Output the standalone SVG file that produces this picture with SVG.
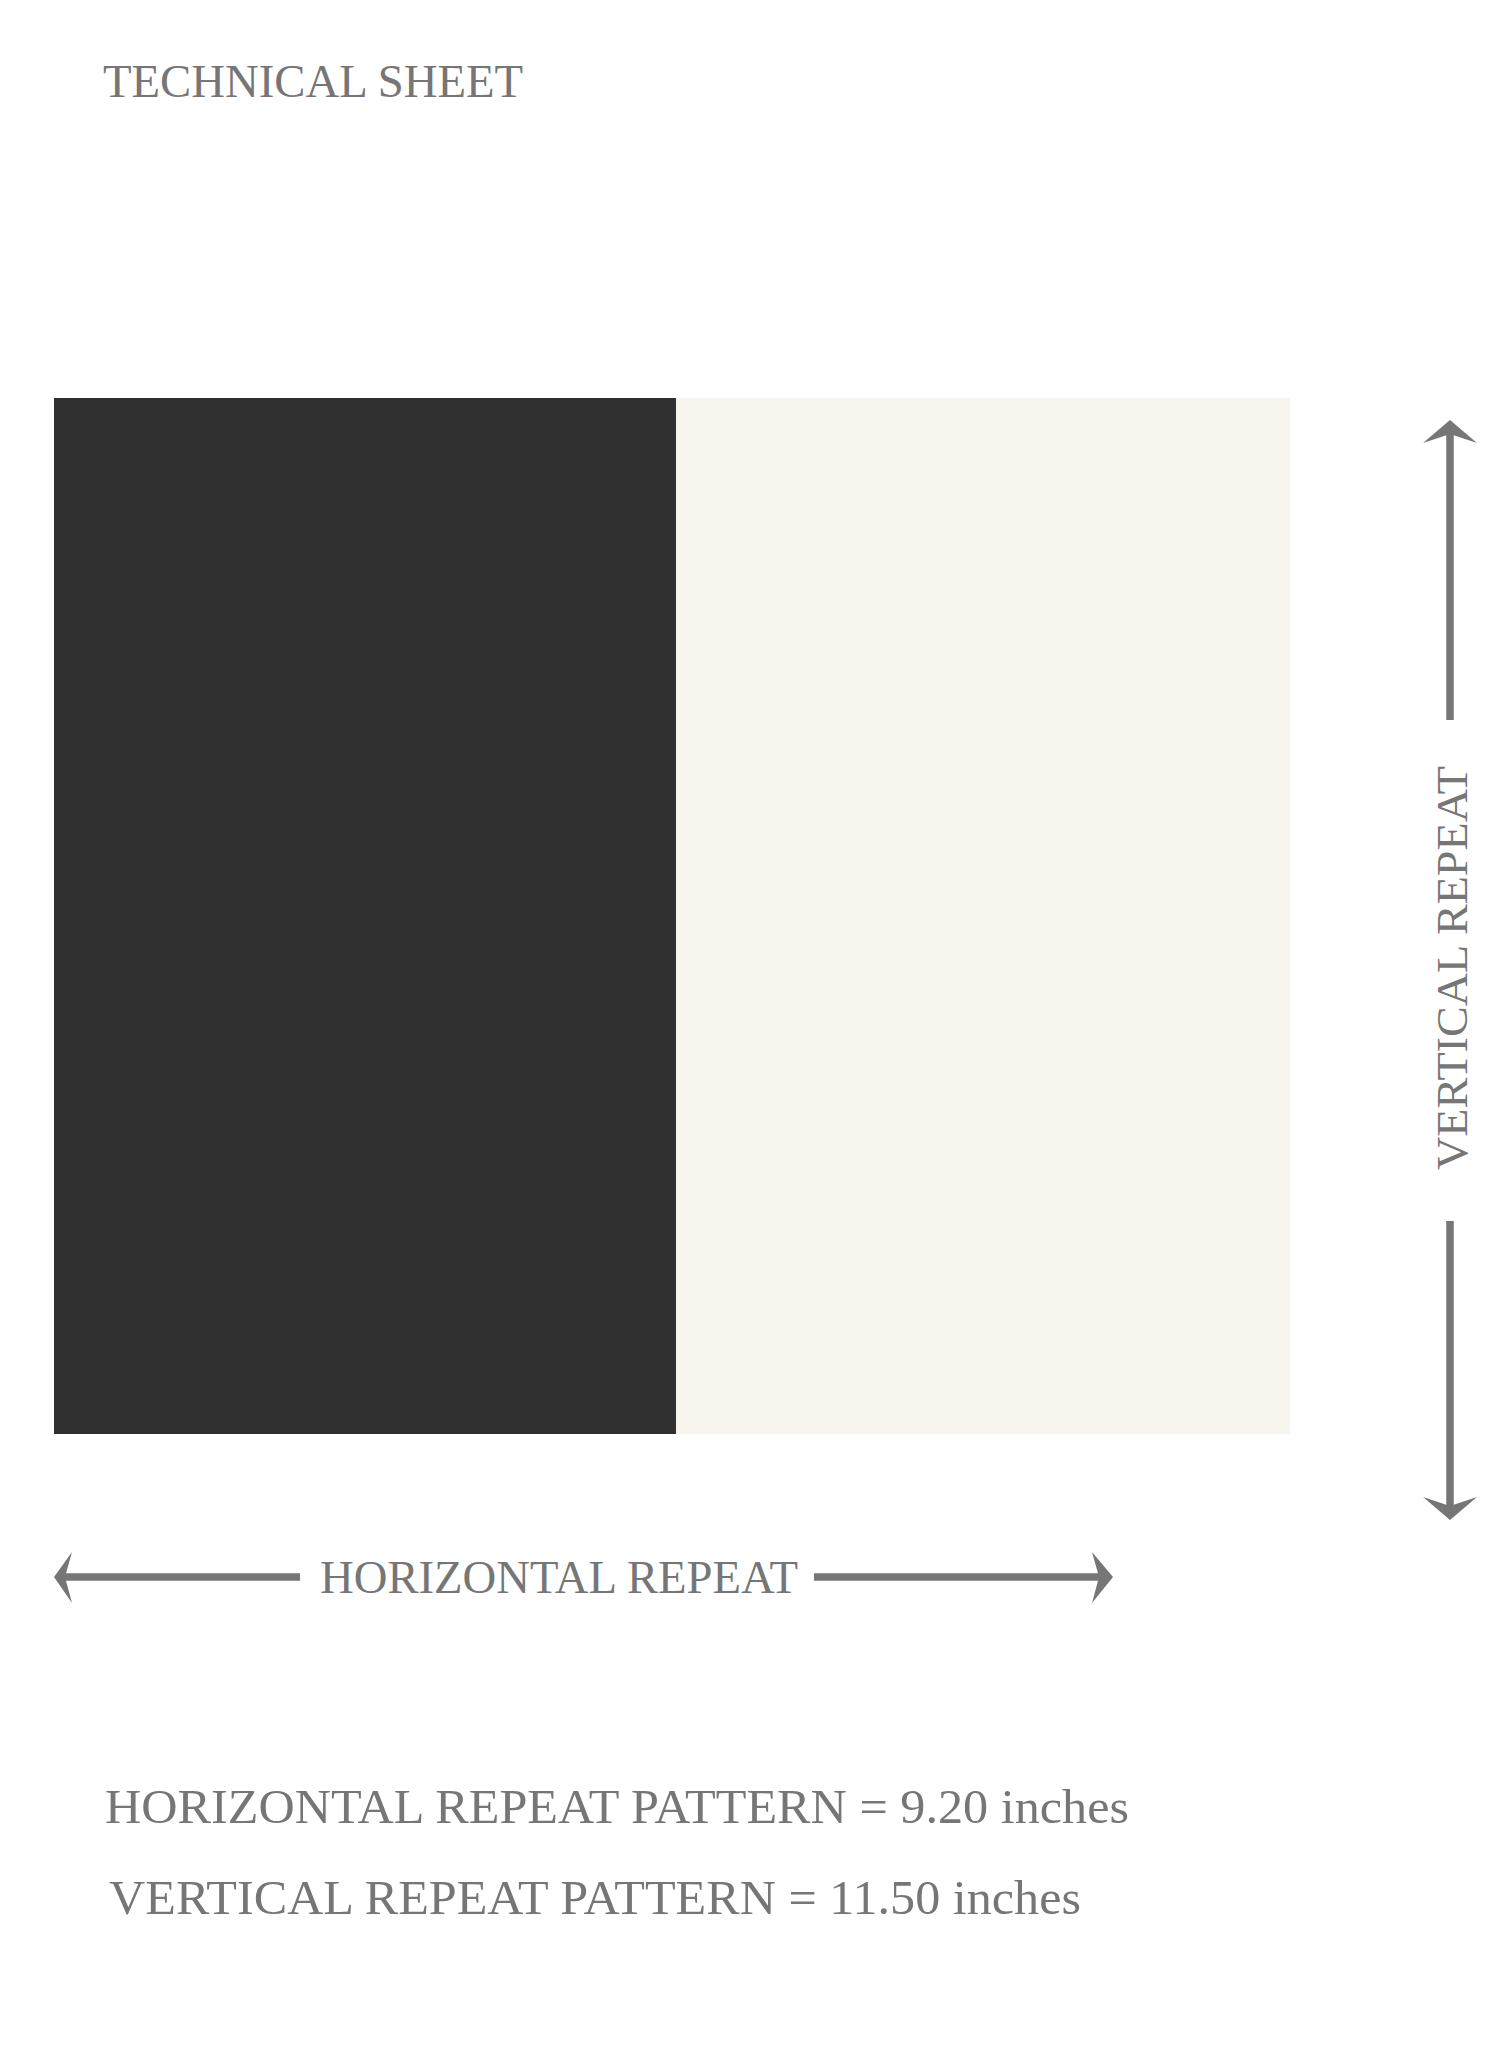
<svg xmlns="http://www.w3.org/2000/svg" width="1500" height="2063" viewBox="0 0 1500 2063">
<style>
  .t { font-family: "Liberation Serif", "Times New Roman", serif; fill: #767676; }
  .ln { stroke: #767676; stroke-width: 7.5; fill: none; }
  .ah { fill: #767676; }
</style>
<rect width="1500" height="2063" fill="#ffffff"/>
<g id="title">
  <text class="t" x="103" y="97" font-size="46.5" textLength="420" lengthAdjust="spacingAndGlyphs">TECHNICAL SHEET</text>
</g>
<g id="swatch-dark">
  <rect x="54" y="398" width="622" height="1036" fill="#303030"/>
</g>
<g id="swatch-light">
  <rect x="676" y="398" width="614" height="1036" fill="#F8F5EE"/>
</g>
<g id="connectors">
  <line class="ln" x1="1450" y1="428" x2="1450" y2="720"/>
  <path class="ah" d="M1450,420 L1477,443 L1450,434 L1423,443 Z"/>
  <line class="ln" x1="1450" y1="1221" x2="1450" y2="1512"/>
  <path class="ah" d="M1450,1520 L1477,1497 L1450,1506 L1423,1497 Z"/>
  <line class="ln" x1="62" y1="1577" x2="300" y2="1577"/>
  <path class="ah" d="M54,1577 L72,1552 L65,1577 L72,1603 Z"/>
  <line class="ln" x1="814" y1="1577" x2="1105" y2="1577"/>
  <path class="ah" d="M1113,1577 L1092,1552 L1099,1577 L1092,1603 Z"/>
</g>
<g id="label-vertical">
  <text class="t" x="0" y="0" font-size="45" textLength="404" lengthAdjust="spacingAndGlyphs" transform="translate(1467,1170) rotate(-90)">VERTICAL REPEAT</text>
</g>
<g id="label-horizontal">
  <text class="t" x="320" y="1593" font-size="46" textLength="478" lengthAdjust="spacingAndGlyphs">HORIZONTAL REPEAT</text>
</g>
<g id="spec-horizontal">
  <text class="t" x="105" y="1823" font-size="49" textLength="1024" lengthAdjust="spacingAndGlyphs">HORIZONTAL REPEAT PATTERN = 9.20 inches</text>
</g>
<g id="spec-vertical">
  <text class="t" x="109" y="1914" font-size="49" textLength="972" lengthAdjust="spacingAndGlyphs">VERTICAL REPEAT PATTERN = 11.50 inches</text>
</g>
</svg>
